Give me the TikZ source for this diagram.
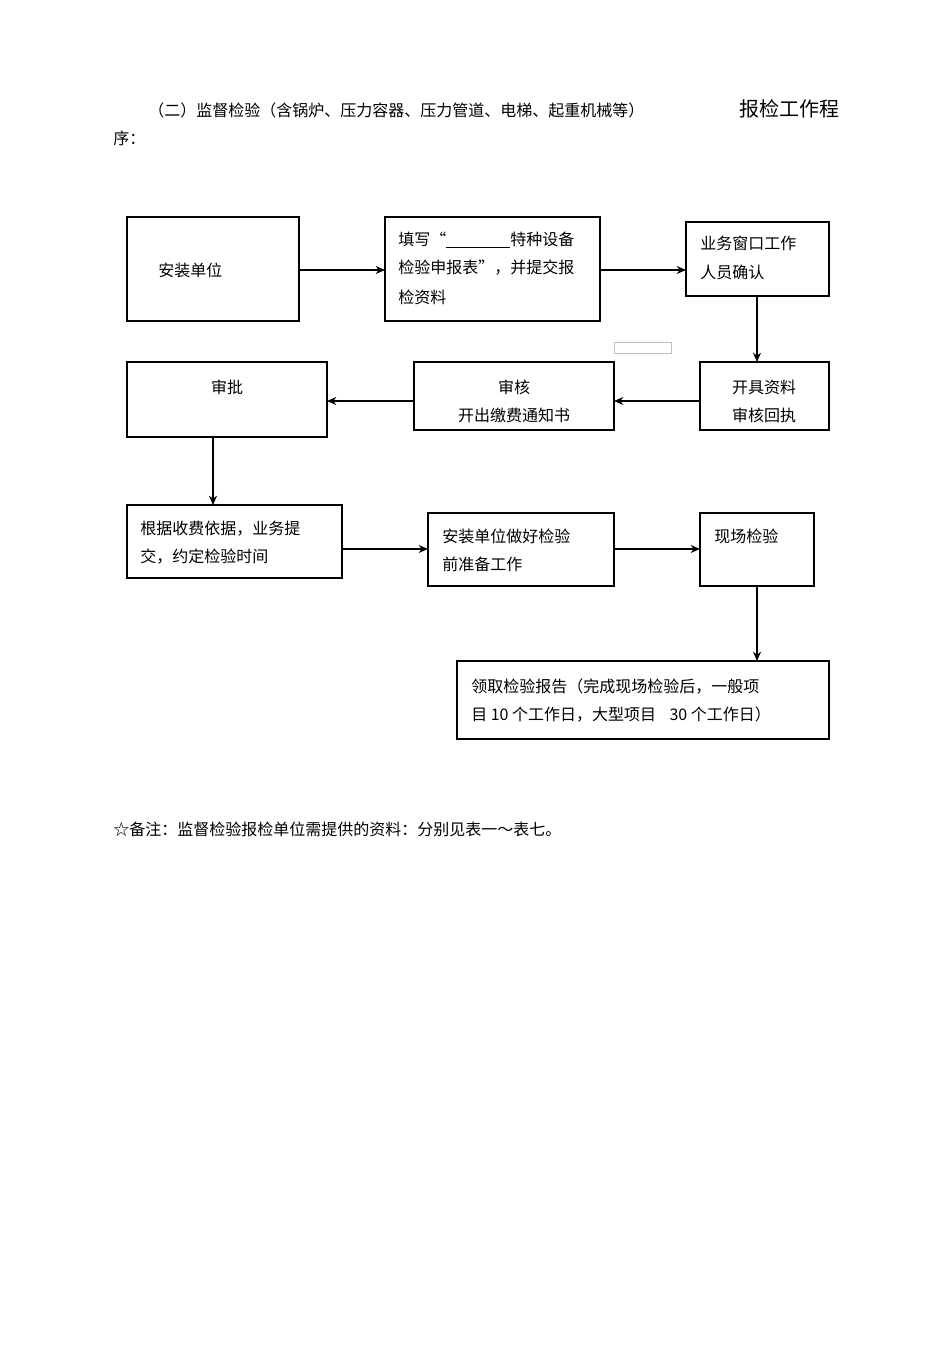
\documentclass[tikz,border=0pt]{standalone}
\usepackage{fontspec}
\setmainfont{Noto Sans CJK SC}
\usetikzlibrary{arrows.meta}
\begin{document}
\begin{tikzpicture}[x=0.75pt,y=-0.75pt,
  box/.style={draw,line width=0.8pt},
  arr/.style={-{Stealth[length=7pt,width=6pt]},line width=0.9pt},
  txt/.style={inner sep=0,anchor=west,font=\fontsize{12}{14}\selectfont}]
\useasboundingbox[fill=white] (0,0) rectangle (950,1345);
\node[txt] (t1) at (148,110) {（二）监督检验（含锅炉、压力容器、压力管道、电梯、起重机械等）};
\node[txt,font=\fontsize{15}{18}\selectfont] (t2) at (739,109) {报检工作程};
\node[txt] (t3) at (113,138) {序：};
\draw[box] (127,217) rectangle (299,321);
\node[txt] (a) at (158,270) {安装单位};
\coordinate (aE) at (299,270);
\draw[box] (385,217) rectangle (600,321);
\node[txt] (b1) at (398,240) {填写“\underline{\hspace{48pt}}特种设备};
\node[txt] (b2) at (398,268) {检验申报表”，并提交报};
\node[txt] (b3) at (398,297) {检资料};
\coordinate (bW) at (385,270); \coordinate (bE) at (600,270);
\draw[box] (686,222) rectangle (829,296);
\node[txt] (c1) at (700,243) {业务窗口工作};
\node[txt] (c2) at (700,272) {人员确认};
\coordinate (cW) at (686,270); \coordinate (cS) at (757,296);
\draw[gray!50,line width=0.5pt] (614,342) rectangle (671,353);
\draw[box] (700,362) rectangle (829,430);
\node[txt,anchor=center] (d1) at (764,387) {开具资料};
\node[txt,anchor=center] (d2) at (764,415) {审核回执};
\coordinate (dN) at (757,362); \coordinate (dW) at (700,401);
\draw[box] (414,362) rectangle (614,430);
\node[txt,anchor=center] (e1) at (514,387) {审核};
\node[txt,anchor=center] (e2) at (514,415) {开出缴费通知书};
\coordinate (eE) at (614,401); \coordinate (eW) at (414,401);
\draw[box] (127,362) rectangle (327,437);
\draw[line width=1.6pt] (127,437) -- (327,437);
\node[txt,anchor=center] (f) at (227,387) {审批};
\coordinate (fE) at (327,401); \coordinate (fS) at (213,437);
\draw[box] (127,505) rectangle (342,578);
\node[txt] (g1) at (140,529) {根据收费依据，业务提};
\node[txt] (g2) at (140,557) {交，约定检验时间};
\coordinate (gN) at (213,505); \coordinate (gE) at (342,549);
\draw[box] (428,513) rectangle (614,586);
\node[txt] (h1) at (442,536) {安装单位做好检验};
\node[txt] (h2) at (442,564) {前准备工作};
\coordinate (hW) at (428,549); \coordinate (hE) at (614,549);
\draw[box] (700,513) rectangle (814,586);
\node[txt] (i) at (714,536) {现场检验};
\coordinate (iW) at (700,549); \coordinate (iS) at (757,586);
\draw[box] (457,661) rectangle (829,739);
\node[txt] (j1) at (471,686) {领取检验报告（完成现场检验后，一般项};
\node[txt] (j2) at (471,714) {目 10 个工作日，大型项目\hspace{10pt}30 个工作日）};
\coordinate (jN) at (757,661);
\draw[arr] (aE) -- (bW);
\draw[arr] (bE) -- (cW);
\draw[arr] (cS) -- (dN);
\draw[arr] (dW) -- (eE);
\draw[arr] (eW) -- (fE);
\draw[arr] (fS) -- (gN);
\draw[arr] (gE) -- (hW);
\draw[arr] (hE) -- (iW);
\draw[arr] (iS) -- (jN);
\node[txt] (n) at (113,829) {☆备注：监督检验报检单位需提供的资料：分别见表一～表七。};
\end{tikzpicture}
\end{document}
